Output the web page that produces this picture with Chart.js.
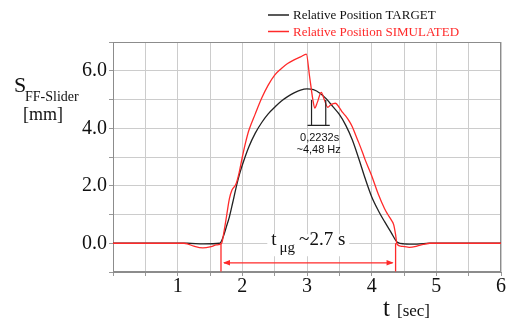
<!DOCTYPE html>
<html>
<head>
<meta charset="utf-8">
<script src="https://cdn.jsdelivr.net/npm/chart.js@4.4.1/dist/chart.umd.min.js"></script>
<style>
html, body { margin: 0; padding: 0; background: #fff; }
#chart { display: block; }
</style>
</head>
<body>
<canvas id="chart" width="510" height="321"></canvas>
<script>
// time [s] and slider position [mm]
var tTarget = [0, 1.15, 1.4, 1.65, 1.7, 1.75, 1.8, 1.85, 1.9, 1.95, 2.0, 2.1, 2.2, 2.3, 2.4, 2.5, 2.6, 2.7, 2.8, 2.9,
    3.0, 3.1, 3.2, 3.3, 3.4, 3.5, 3.6, 3.7, 3.8, 3.9, 4.0, 4.1, 4.2, 4.3, 4.4, 4.5, 4.7, 4.9, 6.0];
var sTarget = [0, 0, -0.02, 0, 0.2, 0.55, 0.92, 1.4, 1.9, 2.35, 2.72, 3.35, 3.83, 4.2, 4.5, 4.73, 4.94, 5.1, 5.23, 5.33,
    5.37, 5.34, 5.22, 5.02, 4.75, 4.48, 4.1, 3.6, 2.95, 2.25, 1.62, 1.15, 0.75, 0.38, 0.03, -0.02, -0.03, 0, 0];

var tSim = [0, 1.1, 1.15, 1.25, 1.39, 1.5, 1.6, 1.68, 1.72, 1.76, 1.8, 1.84, 1.9, 1.95, 2.0, 2.05, 2.1, 2.2, 2.3, 2.4,
    2.5, 2.6, 2.7, 2.8, 2.9, 2.99, 3.04, 3.09, 3.12, 3.16, 3.22, 3.27, 3.32, 3.37, 3.44, 3.5, 3.55, 3.6, 3.66, 3.7,
    3.76, 3.8, 3.86, 3.9, 4.0, 4.1, 4.2, 4.25, 4.3, 4.34, 4.37, 4.39, 4.45, 4.58, 4.7, 4.8, 4.9, 6.0];
var sSim = [0, 0, -0.02, -0.1, -0.16, -0.13, -0.06, 0, 0.45, 1.0, 1.55, 1.85, 2.05, 2.45, 3.0, 3.5, 3.92, 4.5, 5.05, 5.5,
    5.85, 6.07, 6.25, 6.38, 6.48, 6.58, 5.8, 5.0, 4.7, 4.9, 5.25, 4.98, 4.73, 4.82, 4.87, 4.72, 4.55, 4.42, 4.22, 4.05,
    3.72, 3.5, 3.15, 2.9, 2.35, 1.72, 1.2, 1.0, 0.82, 0.65, 0.3, -0.02, -0.1, -0.14, -0.1, -0.04, 0, 0];

var xTickValues = [1, 2, 3, 4, 5, 6];
var yTickValues = [0, 2, 4, 6];
var seriesLabels = ['Relative Position TARGET', 'Relative Position SIMULATED'];

// annotation marks (seconds / mm)
var tugStart = 1.67, tugEnd = 4.37;
var periodStart = 3.07, periodEnd = 3.29;

var BLACK = '#222222';
var RED = '#ff2a2a';
var SERIF = 'Liberation Serif, serif';
var SANS = 'Liberation Sans, sans-serif';

Chart.defaults.font.family = SERIF;

function toPoints(ts, ss) {
    return ts.map(function (t, i) { return { x: t, y: ss[i] }; });
}

function arrowHead(ctx, x, y, dir) {
    ctx.beginPath();
    ctx.moveTo(x, y);
    ctx.lineTo(x - dir * 7, y - 2.8);
    ctx.lineTo(x - dir * 7, y + 2.8);
    ctx.closePath();
    ctx.fill();
}

// grey frame round the plot area
var framePlugin = {
    id: 'frame',
    beforeDatasetsDraw: function (chart) {
        var a = chart.chartArea, ctx = chart.ctx;
        ctx.save();
        ctx.strokeStyle = '#8c8c8c';
        ctx.lineWidth = 1;
        ctx.strokeRect(Math.round(a.left) + 0.5, Math.round(a.top) + 0.5,
            Math.round(a.right - a.left) - 1, Math.round(a.bottom - a.top) - 1);
        ctx.restore();
    }
};

// legend, axis titles and the two measurements
var notesPlugin = {
    id: 'notes',
    afterDatasetsDraw: function (chart) {
        var ctx = chart.ctx;
        var xs = chart.scales.x, ys = chart.scales.y;
        ctx.save();

        // legend
        ctx.lineWidth = 1.5;
        ctx.font = '13px ' + SERIF;
        ctx.textBaseline = 'middle';
        [[BLACK, 15], [RED, 31.5]].forEach(function (e, i) {
            ctx.strokeStyle = e[0];
            ctx.beginPath();
            ctx.moveTo(268, e[1]);
            ctx.lineTo(289, e[1]);
            ctx.stroke();
            ctx.fillStyle = i === 0 ? '#111' : RED;
            ctx.fillText(seriesLabels[i], 293, e[1] + 1);
        });

        // y title
        ctx.fillStyle = '#111';
        ctx.textBaseline = 'alphabetic';
        ctx.font = '22px ' + SERIF;
        ctx.fillText('S', 14, 92);
        ctx.font = '14px ' + SERIF;
        ctx.fillText('FF-Slider', 25, 101);
        ctx.font = '18px ' + SERIF;
        ctx.fillText('[mm]', 23, 120);

        // x title
        ctx.font = '25px ' + SERIF;
        ctx.fillText('t', 383, 316);
        ctx.font = '17px ' + SERIF;
        ctx.fillText('[sec]', 397, 316);

        // t_μg bracket (red)
        var x1 = xs.getPixelForValue(tugStart), x2 = xs.getPixelForValue(tugEnd);
        var y0 = ys.getPixelForValue(0), yLow = ys.getPixelForValue(-0.98), yArr = ys.getPixelForValue(-0.68);
        ctx.strokeStyle = RED;
        ctx.fillStyle = RED;
        ctx.lineWidth = 1.3;
        ctx.beginPath();
        ctx.moveTo(x1, y0); ctx.lineTo(x1, yLow);
        ctx.moveTo(x2, y0); ctx.lineTo(x2, yLow);
        ctx.moveTo(x1 + 3, yArr); ctx.lineTo(x2 - 3, yArr);
        ctx.stroke();
        arrowHead(ctx, x1 + 2, yArr, -1);
        arrowHead(ctx, x2 - 2, yArr, 1);

        // t_μg label with white box
        var cx = (x1 + x2) / 2;
        ctx.font = '19px ' + SERIF;
        var w1 = ctx.measureText('t').width;
        var w3 = ctx.measureText('~2.7 s').width;
        ctx.font = '15px ' + SERIF;
        var w2 = ctx.measureText('μg').width;
        var total = w1 + 3 + w2 + 4 + w3;
        var tx = cx - total / 2;
        ctx.fillStyle = '#fff';
        ctx.fillRect(tx - 4, y0 - 9, total + 8, 22);
        ctx.fillStyle = '#111';
        ctx.font = '19px ' + SERIF;
        ctx.fillText('t', tx, y0 + 2);
        ctx.fillText('~2.7 s', tx + w1 + 3 + w2 + 4, y0 + 2);
        ctx.font = '15px ' + SERIF;
        ctx.fillText('μg', tx + w1 + 3, y0 + 9);

        // oscillation period (black)
        var p1 = xs.getPixelForValue(periodStart), p2 = xs.getPixelForValue(periodEnd);
        var pTop = ys.getPixelForValue(4.98), pBot = ys.getPixelForValue(4.1);
        ctx.strokeStyle = BLACK;
        ctx.lineWidth = 1.2;
        ctx.beginPath();
        ctx.moveTo(p1, pTop); ctx.lineTo(p1, pBot);
        ctx.moveTo(p2, pTop); ctx.lineTo(p2, pBot);
        ctx.moveTo(p1 - 4, pBot); ctx.lineTo(p2 + 4, pBot);
        ctx.stroke();
        ctx.fillStyle = '#111';
        ctx.font = '11px ' + SANS;
        ctx.textAlign = 'center';
        ctx.fillText('0,2232s', (p1 + p2) / 2 + 1, pBot + 16);
        ctx.fillText('~4,48 Hz', (p1 + p2) / 2, pBot + 28);

        ctx.restore();
    }
};

new Chart(document.getElementById('chart'), {
    type: 'line',
    data: {
        datasets: [{
            label: seriesLabels[1],
            data: toPoints(tSim, sSim),
            borderColor: RED,
            borderWidth: 1.3,
            pointRadius: 0,
            cubicInterpolationMode: 'monotone',
            order: 0
        }, {
            label: seriesLabels[0],
            data: toPoints(tTarget, sTarget),
            borderColor: BLACK,
            borderWidth: 1.3,
            pointRadius: 0,
            cubicInterpolationMode: 'monotone',
            order: 1
        }]
    },
    options: {
        responsive: false,
        animation: false,
        layout: { padding: { top: 42, right: 9, left: 0, bottom: 0 } },
        plugins: {
            legend: { display: false },
            tooltip: { enabled: false }
        },
        scales: {
            x: {
                type: 'linear',
                min: 0,
                max: 6,
                afterFit: function (scale) { scale.height = 49; },
                ticks: {
                    stepSize: 0.5,
                    autoSkip: false,
                    maxRotation: 0,
                    padding: 1,
                    color: '#111',
                    font: { family: SERIF, size: 20, lineHeight: 1 },
                    callback: function (v) { return xTickValues.indexOf(v) >= 0 ? String(v) : ''; }
                },
                grid: { color: '#cccccc', tickLength: 4, tickColor: '#999999' },
                border: { color: '#8c8c8c' }
            },
            y: {
                min: -1,
                max: 7,
                afterFit: function (scale) { scale.width = 113; },
                ticks: {
                    stepSize: 1,
                    padding: 2,
                    color: '#111',
                    font: { family: SERIF, size: 20, lineHeight: 1 },
                    callback: function (v) { return yTickValues.indexOf(v) >= 0 ? v.toFixed(1) : ''; }
                },
                grid: { color: '#cccccc', tickLength: 4, tickColor: '#999999' },
                border: { color: '#8c8c8c' }
            }
        }
    },
    plugins: [framePlugin, notesPlugin]
});
</script>
</body>
</html>
